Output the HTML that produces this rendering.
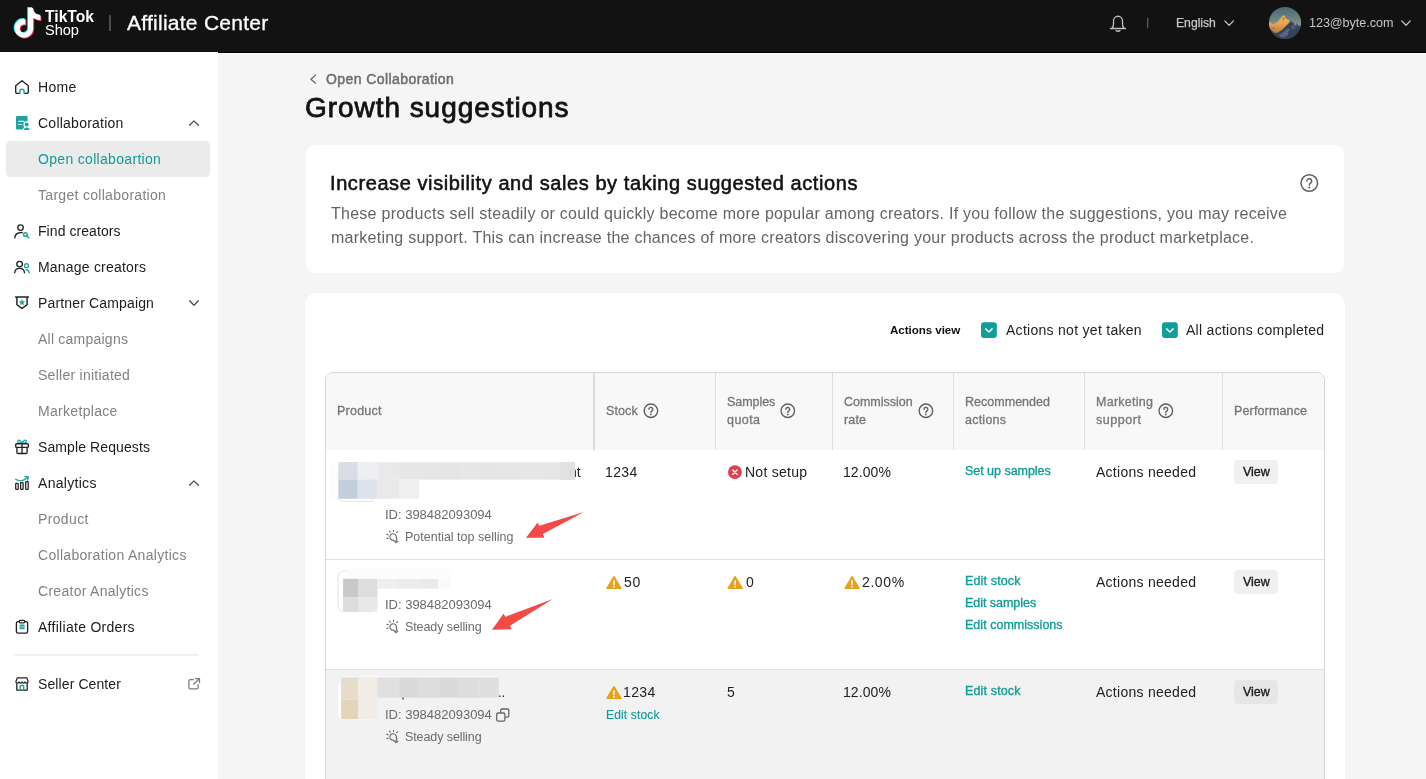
<!DOCTYPE html>
<html lang="en">
<head>
<meta charset="utf-8">
<title>Affiliate Center - Growth suggestions</title>
<style>

*{box-sizing:border-box;margin:0;padding:0}
html,body{width:1426px;height:779px;overflow:hidden;background:#fff;font-family:"Liberation Sans",sans-serif}
.t{position:absolute;white-space:pre;display:block;will-change:transform}
.abs{position:absolute}
svg{position:absolute;overflow:visible}
#hdr{position:absolute;left:0;top:0;width:1426px;height:53px;background:#121212;border-bottom:1px solid #000}
#side{position:absolute;left:0;top:52px;width:218px;height:727px;background:#fff}
#main{position:absolute;left:218px;top:54px;width:1208px;height:725px;background:#f5f5f5}
.card{position:absolute;background:#fff;border-radius:9px}
#tbl{position:absolute;left:325px;top:372px;width:1000px;height:420px;border:1px solid #d6d6d6;border-radius:8px;overflow:hidden;background:#fff}
.btn{position:absolute;width:44px;height:24px;border-radius:4px;background:#f0f0f0}

</style>
</head>
<body>
<header id="hdr">
<svg width="1426" height="52" viewBox="0 0 1426 52">
 <g transform="translate(11.75,7.0) scale(1.24)"><path d="M12.525.02c1.31-.02 2.61-.01 3.91-.02.08 1.53.63 3.09 1.75 4.17 1.12 1.11 2.7 1.62 4.24 1.79v4.03c-1.44-.05-2.89-.35-4.2-.97-.57-.26-1.1-.59-1.62-.93-.01 2.92.01 5.84-.02 8.75-.08 1.4-.54 2.79-1.35 3.94-1.31 1.92-3.58 3.17-5.91 3.21-1.43.08-2.86-.31-4.08-1.03-2.02-1.19-3.44-3.37-3.65-5.71-.02-.5-.03-1-.01-1.49.18-1.9 1.12-3.72 2.58-4.96 1.66-1.44 3.98-2.13 6.15-1.72.02 1.48-.04 2.96-.04 4.44-.99-.32-2.15-.23-3.02.37-.63.41-1.11 1.04-1.36 1.75-.21.51-.15 1.07-.14 1.61.24 1.64 1.82 3.02 3.5 2.87 1.12-.01 2.19-.66 2.77-1.61.19-.33.4-.67.41-1.06.1-1.79.06-3.57.07-5.36.01-4.03-.01-8.05.02-12.07z" fill="#25f4ee"/></g>
 <g transform="translate(13.55,8.8) scale(1.24)"><path d="M12.525.02c1.31-.02 2.61-.01 3.91-.02.08 1.53.63 3.09 1.75 4.17 1.12 1.11 2.7 1.62 4.24 1.79v4.03c-1.44-.05-2.89-.35-4.2-.97-.57-.26-1.1-.59-1.62-.93-.01 2.92.01 5.84-.02 8.75-.08 1.4-.54 2.79-1.35 3.94-1.31 1.92-3.58 3.17-5.91 3.21-1.43.08-2.86-.31-4.08-1.03-2.02-1.19-3.44-3.37-3.65-5.71-.02-.5-.03-1-.01-1.49.18-1.9 1.12-3.72 2.58-4.96 1.66-1.44 3.98-2.13 6.15-1.72.02 1.48-.04 2.96-.04 4.44-.99-.32-2.15-.23-3.02.37-.63.41-1.11 1.04-1.36 1.75-.21.51-.15 1.07-.14 1.61.24 1.64 1.82 3.02 3.5 2.87 1.12-.01 2.19-.66 2.77-1.61.19-.33.4-.67.41-1.06.1-1.79.06-3.57.07-5.36.01-4.03-.01-8.05.02-12.07z" fill="#fe2c55"/></g>
 <g transform="translate(12.65,7.9) scale(1.24)"><path d="M12.525.02c1.31-.02 2.61-.01 3.91-.02.08 1.53.63 3.09 1.75 4.17 1.12 1.11 2.7 1.62 4.24 1.79v4.03c-1.44-.05-2.89-.35-4.2-.97-.57-.26-1.1-.59-1.62-.93-.01 2.92.01 5.84-.02 8.75-.08 1.4-.54 2.79-1.35 3.94-1.31 1.92-3.58 3.17-5.91 3.21-1.43.08-2.86-.31-4.08-1.03-2.02-1.19-3.44-3.37-3.65-5.71-.02-.5-.03-1-.01-1.49.18-1.9 1.12-3.72 2.58-4.96 1.66-1.44 3.98-2.13 6.15-1.72.02 1.48-.04 2.96-.04 4.44-.99-.32-2.15-.23-3.02.37-.63.41-1.11 1.04-1.36 1.75-.21.51-.15 1.07-.14 1.61.24 1.64 1.82 3.02 3.5 2.87 1.12-.01 2.19-.66 2.77-1.61.19-.33.4-.67.41-1.06.1-1.79.06-3.57.07-5.36.01-4.03-.01-8.05.02-12.07z" fill="#fff"/></g>
 <rect x="109.2" y="15.2" width="1.6" height="15.8" fill="#5c5c5c"/>
 <g fill="none" stroke="#bdbdbd" stroke-width="1.35" stroke-linecap="round" stroke-linejoin="round">
  <path d="M1110.500 28.500H1125.500M1112 28.300c1.200-1.300 1.500-2.700 1.500-4.600v-2.900a4.500 4.500 0 0 1 9 0v2.900c0 1.900 .3 3.300 1.500 4.600"/>
  <path d="M1116.100 30.700Q1118 31.800 1119.900 30.700" stroke-width="1.500"/>
 </g>
 <rect x="1146.9" y="17.6" width="1.5" height="10.6" fill="#555"/>
 <path d="M1224.8 20.9l4.3 4.5l4.3-4.5" fill="none" stroke="#c6c6c6" stroke-width="1.3" stroke-linecap="round" stroke-linejoin="round"/>
 <path d="M1401.7 20.9l4.3 4.4l4.3-4.4" fill="none" stroke="#c6c6c6" stroke-width="1.3" stroke-linecap="round" stroke-linejoin="round"/>
 <defs>
  <clipPath id="avc"><circle cx="1285" cy="23" r="16.1"/></clipPath>
  <linearGradient id="sky" x1="0" y1="0" x2="0" y2="1"><stop offset="0" stop-color="#416470"/><stop offset=".35" stop-color="#64807f"/><stop offset=".6" stop-color="#8b9891"/><stop offset="1" stop-color="#8b9891"/></linearGradient>
  <linearGradient id="mtg" x1="0" y1="0" x2="0" y2="1"><stop offset="0" stop-color="#f6c064"/><stop offset=".5" stop-color="#e3a14e"/><stop offset="1" stop-color="#b9793f"/></linearGradient>
  <linearGradient id="mtd" x1="0" y1="0" x2="0" y2="1"><stop offset="0" stop-color="#4b5a72"/><stop offset="1" stop-color="#28313f"/></linearGradient>
  <filter id="avb" x="-10%" y="-10%" width="120%" height="120%"><feGaussianBlur stdDeviation=".55"/></filter>
 </defs>
 <g clip-path="url(#avc)"><g filter="url(#avb)">
  <rect x="1266" y="4" width="38" height="38" fill="url(#sky)"/>
  <path d="M1266 27L1290 20.500l2 1l2.500 2l1.500-.700l2 2.200l4 1.500l2 .5V42H1266z" fill="url(#mtd)"/>
  <path d="M1266 24l2.500-.7l2-1l2 2l2.500-1.100l2.500-1.200l3-3.500l2.900-3.600l1.600 1.600l1 2.300l2 .8l2 1.400l-1.800 3l-2.700 3l-2.500 3.500l-4 3l-5-1l-3-3l-5-2z" fill="url(#mtg)"/>
  <path d="M1283.500 16.600l1.200 2l-1.600 2.600l-.9-2.100z" fill="#8a5a2c" opacity=".55"/>
  <path d="M1266 27.500l5 .2l3.500-.7l.8 2l-3.300 1.200l-3 -.4l-3-.8z" fill="#8d7f86" opacity=".7"/>
  <path d="M1273 34l5-1.500l4.500-3l3.500-3.500l3-2.500l2.500-1l4.500 3.500l4 3l2 1V42H1271z" fill="#35425a"/>
  <path d="M1279 35l4-2.500l3-3l2.500-1.500l1.500 2l-2.500 2.500l1 2l-3.500 2.500l-4 .5z" fill="#6c7f9e" opacity=".6"/>
  <path d="M1291 26l2.500-1.500l2.500 2l-1 2.500l-3 1z" fill="#5d6f8e" opacity=".6"/>
  <circle cx="1295.300" cy="24" r="1.100" fill="#c9925a"/>
 </g>
 </g>
</svg>
<span class="t" style="left:44.7px;top:6.00px;font-size:15.6px;line-height:22px;color:#fff;font-weight:700;letter-spacing:0.034px;">TikTok</span><span class="t" style="left:44.9px;top:20.00px;font-size:14.6px;line-height:20px;color:#fff;letter-spacing:-0.031px;">Shop</span><span class="t" style="left:126.8px;top:8.00px;font-size:21px;line-height:29px;color:#fff;letter-spacing:0.256px;-webkit-text-stroke:0.3px #fff;">Affiliate Center</span><span class="t" style="left:1176.4px;top:15.00px;font-size:12.2px;line-height:17px;color:#c6c6c6;letter-spacing:-0.014px;-webkit-text-stroke:0.25px #c6c6c6;">English</span><span class="t" style="left:1308.8px;top:14.00px;font-size:12.6px;line-height:18px;color:#c6c6c6;letter-spacing:-0.046px;">123@byte.com</span>
</header>
<aside id="side"><svg width="218" height="727" viewBox="0 52 218 727">
 <rect x="6" y="141" width="204" height="36" rx="4.5" fill="#ebebeb"/>
 <g fill="none" stroke="#222" stroke-width="1.35" stroke-linecap="round" stroke-linejoin="round">
  <!-- home -->
  <path d="M19.3 93.4H17.2a1.5 1.5 0 0 1-1.5-1.500V85.700L22 80.700l6.300 5v6.200a1.500 1.500 0 0 1-1.500 1.500H24.700"/>
  <path d="M19.900 93.600V91.300a2.100 2.100 0 0 1 4.200 0V93.600" stroke="#1fa39e" stroke-width="1.5"/>
  <!-- find creators -->
  <circle cx="20.500" cy="227.600" r="2.750"/>
  <path d="M14.800 237.900C14.900 234.600 17.300 232.400 22.200 232.500"/>
  <g stroke="#1fa39e" stroke-width="1.450"><circle cx="25.400" cy="234.500" r="1.850"/><path d="M26.900 236L28.900 238"/></g>
  <!-- manage creators -->
  <circle cx="19.600" cy="264.100" r="2.800"/>
  <path d="M14.700 272.800C14.900 269.800 16.800 268.300 19.600 268.300C22.400 268.300 24.300 269.800 24.500 272.800"/>
  <g stroke="#1fa39e" stroke-width="1.350"><circle cx="26.500" cy="265.700" r="1.950"/><path d="M26 269.700C27.900 269.700 29 270.900 29.100 272.800"/></g>
  <!-- partner campaign -->
  <path d="M15.600 297H28.400M16.900 297.200V304.600L22 308.500L27.100 304.600V297.200" stroke-width="1.450"/>
  <path d="M22 299.800l.8 1.700l1.850.2l-1.400 1.250l.4 1.850L22 303.850l-1.650.95l.4-1.850l-1.400-1.250l1.850-.2z" fill="#1fa39e" stroke="#1fa39e" stroke-width=".5"/>
  <!-- sample requests -->
  <g stroke="#1fa39e" stroke-width="1.300"><path d="M22 443.400C20.800 440 18 439.300 17.700 441.200C17.500 442.800 19.800 443.400 22 443.400C24.200 443.400 26.500 442.800 26.300 441.200C26 439.300 23.200 440 22 443.400"/></g>
  <rect x="15.700" y="443.700" width="12.700" height="3.700" rx="1"/>
  <path d="M16.900 447.600V452.200a1.300 1.300 0 0 0 1.300 1.300H25.800a1.300 1.300 0 0 0 1.300-1.300V447.600M22 443.900V453.400"/>
  <!-- analytics -->
  <g stroke-width="1.250"><rect x="15.700" y="483.400" width="2.500" height="6" rx=".6"/><rect x="20.600" y="482.500" width="2.500" height="6.900" rx=".6"/><rect x="25.700" y="481.600" width="2.500" height="7.800" rx=".6"/></g>
  <g stroke="#1fa39e" stroke-width="1.300"><path d="M15.700 479.300C18.500 481 21.500 481.200 24 479.900C25.500 479.100 26.800 478.200 27.900 477.300"/><path d="M25 476.500L28.300 477L27.600 480.100"/></g>
  <!-- affiliate orders -->
  <rect x="16.400" y="621.600" width="11.200" height="11.600" rx="1.600"/>
  <rect x="19.400" y="620.300" width="5.200" height="2.500" rx=".8" fill="#fff" stroke-width="1.200"/>
  <rect x="19.600" y="624.600" width="5" height="4.600" rx=".5" fill="#1fa39e" stroke="none"/>
  <path d="M20.200 626.900H24" stroke="#d8f0ee" stroke-width=".7"/>
  <!-- seller center -->
  <path d="M17.200 677.900H26.900L28.100 681.700C28.100 683.400 25.300 683.500 25 681.900C24.800 683.500 22.200 683.500 22 681.900C21.800 683.500 19.200 683.500 19 681.900C18.700 683.500 15.900 683.400 15.900 681.700Z" stroke-width="1.250"/>
  <path d="M16.800 683.800V690.100H27.200V683.800" stroke-width="1.300"/>
  <path d="M20.300 690.100V686a.5 .5 0 0 1 .5-.5H23.200a.5 .5 0 0 1 .5 .5V690.100" stroke="#1fa39e" stroke-width="1.400"/>
 </g>
 <!-- collaboration -->
 <rect x="16" y="116.100" width="11.600" height="13.500" rx="1.400" fill="#1fa39e"/>
 <path d="M18.400 121.400H24.200M18.400 124.500H21.900" stroke="#fff" stroke-width="1.100" fill="none"/>
 <circle cx="26.600" cy="124.500" r="3.150" fill="#fff"/>
 <path d="M22.600 131.500C22.600 128 24.300 126.300 26.700 126.300C29.100 126.300 30.800 128 30.800 131.500Z" fill="#fff"/>
 <circle cx="26.600" cy="124.500" r="1.950" fill="#1fa39e"/>
 <path d="M23.800 130.100C23.900 128.300 25 127.400 26.700 127.400C28.400 127.400 29.500 128.300 29.600 130.100Z" fill="#1fa39e"/>
 <rect x="22" y="130.200" width="9" height="2" fill="#fff"/>
 <path d="M189.6 125.3L194 120.9L198.4 125.3" fill="none" stroke="#4a4a4a" stroke-width="1.25" stroke-linecap="round" stroke-linejoin="round"/><path d="M189.6 300.8L194 305.2L198.4 300.8" fill="none" stroke="#4a4a4a" stroke-width="1.25" stroke-linecap="round" stroke-linejoin="round"/><path d="M189.6 485.3L194 480.9L198.4 485.3" fill="none" stroke="#4a4a4a" stroke-width="1.25" stroke-linecap="round" stroke-linejoin="round"/>
 <rect x="14" y="654.400" width="185" height="1" fill="#e3e3e3"/>
 <path d="M193.400 679.600H190.300a1.400 1.400 0 0 0-1.400 1.400V687.400a1.400 1.400 0 0 0 1.400 1.400H196.700a1.400 1.400 0 0 0 1.400-1.400V684.500M193.600 684.200L199.300 678.700M195.600 678.700H199.500V682.600" fill="none" stroke="#7a7a7a" stroke-width="1.250" stroke-linecap="round" stroke-linejoin="round"/>
</svg><nav style="position:absolute;left:0;top:-52px"><span class="t" style="left:37.9px;top:77.00px;font-size:14px;line-height:20px;color:#1c1c1c;letter-spacing:0.280px;">Home</span><span class="t" style="left:37.9px;top:113.00px;font-size:14px;line-height:20px;color:#1c1c1c;letter-spacing:0.242px;">Collaboration</span><span class="t" style="left:37.9px;top:149.00px;font-size:14px;line-height:20px;color:#129c97;letter-spacing:0.316px;">Open collaboartion</span><span class="t" style="left:37.9px;top:185.00px;font-size:14px;line-height:20px;color:#828282;letter-spacing:0.301px;">Target collaboration</span><span class="t" style="left:37.9px;top:221.00px;font-size:14px;line-height:20px;color:#1c1c1c;letter-spacing:0.066px;">Find creators</span><span class="t" style="left:37.9px;top:257.00px;font-size:14px;line-height:20px;color:#1c1c1c;letter-spacing:0.203px;">Manage creators</span><span class="t" style="left:37.9px;top:293.00px;font-size:14px;line-height:20px;color:#1c1c1c;letter-spacing:0.152px;">Partner Campaign</span><span class="t" style="left:37.9px;top:329.00px;font-size:14px;line-height:20px;color:#828282;letter-spacing:0.229px;">All campaigns</span><span class="t" style="left:37.9px;top:365.00px;font-size:14px;line-height:20px;color:#828282;letter-spacing:0.264px;">Seller initiated</span><span class="t" style="left:37.9px;top:401.00px;font-size:14px;line-height:20px;color:#828282;letter-spacing:0.313px;">Marketplace</span><span class="t" style="left:37.9px;top:437.00px;font-size:14px;line-height:20px;color:#1c1c1c;letter-spacing:0.099px;">Sample Requests</span><span class="t" style="left:37.9px;top:473.00px;font-size:14px;line-height:20px;color:#1c1c1c;letter-spacing:0.296px;">Analytics</span><span class="t" style="left:37.9px;top:509.00px;font-size:14px;line-height:20px;color:#828282;letter-spacing:0.358px;">Product</span><span class="t" style="left:37.9px;top:545.00px;font-size:14px;line-height:20px;color:#828282;letter-spacing:0.307px;">Collaboration Analytics</span><span class="t" style="left:37.9px;top:581.00px;font-size:14px;line-height:20px;color:#828282;letter-spacing:0.286px;">Creator Analytics</span><span class="t" style="left:37.9px;top:617.00px;font-size:14px;line-height:20px;color:#1c1c1c;letter-spacing:0.284px;">Affiliate Orders</span><span class="t" style="left:37.9px;top:674.00px;font-size:14px;line-height:20px;color:#1c1c1c;letter-spacing:0.100px;">Seller Center</span></nav></aside>
<main id="main"></main>
<div style="position:absolute;left:0;top:0;width:1426px;height:779px;overflow:hidden">
 <section class="card" style="left:306px;top:145px;width:1038px;height:128px"></section>
 <section class="card" style="left:305px;top:293px;width:1040px;height:520px;border-radius:12px"></section>
 <div style="position:absolute;left:218px;top:52px;width:1208px;height:727px"><svg width="1208" height="727" viewBox="218 52 1208 727">
 <path d="M315.300 75.300L310.900 79.200L315.300 83.100" fill="none" stroke="#6e6e6e" stroke-width="1.400" stroke-linecap="round" stroke-linejoin="round"/>
 <g transform="translate(1309.3,183)" fill="none" stroke="#5f5f5f" stroke-width="1.5" stroke-linecap="round" stroke-linejoin="round"><circle r="8.3"/><g transform="scale(1.3)"><path d="M-1.85 -1.45a1.85 1.85 0 1 1 2.85 1.55c-.7.45-1 .8-1 1.45" stroke-width="1.15"/><circle cx="0" cy="3.45" r=".85" fill="#5f5f5f" stroke="none"/></g></g>
 <!-- checkboxes -->
 <rect x="981" y="322.200" width="15.800" height="15.800" rx="3" fill="#0f9f99"/>
 <path d="M985.700 328.900L988.900 332L992.100 328.900" fill="none" stroke="#fff" stroke-width="1.500" stroke-linecap="round" stroke-linejoin="round"/>
 <rect x="1162" y="322.200" width="15.800" height="15.800" rx="3" fill="#0f9f99"/>
 <path d="M1166.700 328.900L1169.900 332L1173.100 328.900" fill="none" stroke="#fff" stroke-width="1.500" stroke-linecap="round" stroke-linejoin="round"/>
</svg></div>
 <span class="t" style="left:325.6px;top:69.00px;font-size:14px;line-height:20px;color:#6e6e6e;letter-spacing:0.421px;-webkit-text-stroke:0.5px #6e6e6e;">Open Collaboration</span><span class="t" style="left:304.6px;top:88.00px;font-size:28px;line-height:39px;color:#121212;letter-spacing:0.949px;-webkit-text-stroke:0.8px #121212;">Growth suggestions</span><span class="t" style="left:330.2px;top:169.00px;font-size:20px;line-height:28px;color:#121212;letter-spacing:0.584px;-webkit-text-stroke:0.55px #121212;">Increase visibility and sales by taking suggested actions</span><span class="t" style="left:330.9px;top:203.00px;font-size:16px;line-height:22px;color:#646464;letter-spacing:0.259px;">These products sell steadily or could quickly become more popular among creators. If you follow the suggestions, you may receive</span><span class="t" style="left:330.9px;top:227.00px;font-size:16px;line-height:22px;color:#646464;letter-spacing:0.249px;">marketing support. This can increase the chances of more creators discovering your products across the product marketplace.</span><span class="t" style="left:889.6px;top:322.00px;font-size:11.6px;line-height:16px;color:#111;font-weight:700;letter-spacing:-0.061px;">Actions view</span><span class="t" style="left:1005.6px;top:320.00px;font-size:14px;line-height:20px;color:#222;letter-spacing:0.282px;">Actions not yet taken</span><span class="t" style="left:1186.4px;top:320.00px;font-size:14px;line-height:20px;color:#222;letter-spacing:0.285px;">All actions completed</span>
 <div id="tbl"><svg width="1000" height="420" viewBox="326 373 1000 420" style="left:0;top:0">
 <rect x="326" y="373" width="1000" height="77" fill="#f8f8f8"/>
 <rect x="593" y="373" width="2" height="77" fill="#dbdbdb"/>
 <rect x="715" y="373" width="1" height="77" fill="#dedede"/>
 <rect x="832" y="373" width="1" height="77" fill="#dedede"/>
 <rect x="953" y="373" width="1" height="77" fill="#dedede"/>
 <rect x="1084" y="373" width="1" height="77" fill="#dedede"/>
 <rect x="1222" y="373" width="1" height="77" fill="#dedede"/>
 <rect x="326" y="559" width="1000" height="1" fill="#e0e0e0"/>
 <rect x="326" y="669" width="1000" height="1" fill="#e0e0e0"/>
 <rect x="326" y="670" width="1000" height="130" fill="#f2f2f2"/>
 <g transform="translate(650.9,410.8)" fill="none" stroke="#5f5f5f" stroke-width="1.35" stroke-linecap="round" stroke-linejoin="round"><circle r="6.75"/><g transform="scale(1.05)"><path d="M-1.85 -1.45a1.85 1.85 0 1 1 2.85 1.55c-.7.45-1 .8-1 1.45" stroke-width="1.29"/><circle cx="0" cy="3.45" r=".85" fill="#5f5f5f" stroke="none"/></g></g><g transform="translate(787.8,410.8)" fill="none" stroke="#5f5f5f" stroke-width="1.35" stroke-linecap="round" stroke-linejoin="round"><circle r="6.75"/><g transform="scale(1.05)"><path d="M-1.85 -1.45a1.85 1.85 0 1 1 2.85 1.55c-.7.45-1 .8-1 1.45" stroke-width="1.29"/><circle cx="0" cy="3.45" r=".85" fill="#5f5f5f" stroke="none"/></g></g><g transform="translate(925.9,410.8)" fill="none" stroke="#5f5f5f" stroke-width="1.35" stroke-linecap="round" stroke-linejoin="round"><circle r="6.75"/><g transform="scale(1.05)"><path d="M-1.85 -1.45a1.85 1.85 0 1 1 2.85 1.55c-.7.45-1 .8-1 1.45" stroke-width="1.29"/><circle cx="0" cy="3.45" r=".85" fill="#5f5f5f" stroke="none"/></g></g><g transform="translate(1165.8,410.8)" fill="none" stroke="#5f5f5f" stroke-width="1.35" stroke-linecap="round" stroke-linejoin="round"><circle r="6.75"/><g transform="scale(1.05)"><path d="M-1.85 -1.45a1.85 1.85 0 1 1 2.85 1.55c-.7.45-1 .8-1 1.45" stroke-width="1.29"/><circle cx="0" cy="3.45" r=".85" fill="#5f5f5f" stroke="none"/></g></g>
 <!-- row 1 -->
 <rect x="338.300" y="462.500" width="37" height="38.900" rx="5" fill="#fff" stroke="#e2e2e2"/>
 <rect x="331" y="462.2" width="7.4" height="36.6" fill="#fcfcfc"/>
 <rect x="338.4" y="462.2" width="19.4" height="17.2" fill="#d8dde6"/><rect x="357.8" y="462.2" width="19.8" height="17.2" fill="#edeff3"/>
 <rect x="377.6" y="462.2" width="21.4" height="17.5" fill="#e9e9e9"/><rect x="399" y="462.2" width="20" height="17.5" fill="#e7e7e7"/><rect x="419" y="462.2" width="20" height="17.5" fill="#e6e6e6"/><rect x="439" y="462.2" width="20" height="17.5" fill="#e5e5e5"/><rect x="459" y="462.2" width="20" height="17.5" fill="#e7e7e7"/><rect x="479" y="462.2" width="20" height="17.5" fill="#e5e5e5"/><rect x="499" y="462.2" width="20" height="17.5" fill="#e6e6e6"/><rect x="519" y="462.2" width="20" height="17.5" fill="#e7e7e7"/><rect x="539" y="462.2" width="21" height="17.5" fill="#e6e6e6"/><rect x="560" y="462.2" width="15.2" height="17.5" fill="#e1e1e1"/>
 <rect x="338.4" y="479.4" width="19.4" height="19.4" fill="#c3cfdd"/><rect x="357.8" y="479.4" width="19.8" height="19.4" fill="#dee2ea"/><rect x="377.6" y="479.4" width="21.4" height="19.4" fill="#e9e9e9"/><rect x="399" y="479.4" width="20" height="19.4" fill="#f0f0f0"/>
 <circle cx="734.900" cy="472.100" r="6.950" fill="#e0414f"/>
 <path d="M732.700 469.900l4.400 4.400M737.100 469.900l-4.400 4.400" stroke="#fff" stroke-width="1.450" stroke-linecap="round"/>
 <g transform="translate(393.1,536.9)" fill="none" stroke="#686868" stroke-width="1.1" stroke-linecap="round" stroke-linejoin="round"><path d="M.5 3.25A3.25 3.25 0 1 1 3.2 .6L3.85 3.2L2 4.85Z"/><path d="M2.5 5.85L4.7 4.55" stroke-width="1.15"/><path d="M-6.3 -2.6l1.25 .35M-6.3 1.55l1.25 -.35M-3.55 -5.85l.7 1.05M.45 -6.6l-.08 1.2M4.55 -5.15l-1.1 .75"/></g>
 <path d="M583.9 512.0L539.4 525.7L537.5 522.8L526.0 537.8L544.3 537.8L542.9 534.1Z" fill="#f24a46"/>
 <!-- row 2 -->
 <rect x="338" y="571.200" width="39" height="40.300" rx="5.500" fill="#fff" stroke="#e2e2e2"/>
 <rect x="347" y="568.7" width="104" height="10.3" fill="#fcfcfc"/>
 <rect x="343.1" y="578.8" width="14.9" height="18.5" fill="#c9c9c9"/><rect x="358" y="578.8" width="19.2" height="18.5" fill="#dedede"/>
 <rect x="343.1" y="597.3" width="14.9" height="14.1" fill="#dcdcdc"/><rect x="358" y="597.3" width="19.2" height="14.1" fill="#e8e8e8"/>
 <rect x="377.2" y="579" width="20" height="9.6" fill="#efefef"/><rect x="397.2" y="579" width="20" height="9.6" fill="#ececec"/><rect x="417.2" y="579" width="21" height="9.6" fill="#eaeaea"/><rect x="438.2" y="579" width="12.6" height="9.6" fill="#fafafa"/>
 <g transform="translate(606.1,575.6)"><path d="M7.85 1.1L14.9 12.7H.8Z" fill="#e8a11a" stroke="#e8a11a" stroke-width="1.4" stroke-linejoin="round"/><path d="M7.85 5.2V9" stroke="#fff" stroke-width="1.5" stroke-linecap="round" fill="none"/><circle cx="7.85" cy="11.1" r=".85" fill="#fff"/></g><g transform="translate(727.3,575.6)"><path d="M7.85 1.1L14.9 12.7H.8Z" fill="#e8a11a" stroke="#e8a11a" stroke-width="1.4" stroke-linejoin="round"/><path d="M7.85 5.2V9" stroke="#fff" stroke-width="1.5" stroke-linecap="round" fill="none"/><circle cx="7.85" cy="11.1" r=".85" fill="#fff"/></g><g transform="translate(844.2,575.6)"><path d="M7.85 1.1L14.9 12.7H.8Z" fill="#e8a11a" stroke="#e8a11a" stroke-width="1.4" stroke-linejoin="round"/><path d="M7.85 5.2V9" stroke="#fff" stroke-width="1.5" stroke-linecap="round" fill="none"/><circle cx="7.85" cy="11.1" r=".85" fill="#fff"/></g>
 <g transform="translate(393.1,626.9)" fill="none" stroke="#686868" stroke-width="1.1" stroke-linecap="round" stroke-linejoin="round"><path d="M.5 3.25A3.25 3.25 0 1 1 3.2 .6L3.85 3.2L2 4.85Z"/><path d="M2.5 5.85L4.7 4.55" stroke-width="1.15"/><path d="M-6.3 -2.6l1.25 .35M-6.3 1.55l1.25 -.35M-3.55 -5.85l.7 1.05M.45 -6.6l-.08 1.2M4.55 -5.15l-1.1 .75"/></g>
 <path d="M552.9 599.0L505.4 616.7L503.5 613.7L492.0 629.8L511.7 629.3L510.0 625.7Z" fill="#f24a46"/>
 <!-- row 3 -->
 <rect x="338" y="681" width="39" height="39" rx="6" fill="#fff"/>
 <rect x="340.9" y="675.3" width="158" height="2.3" fill="#f6f6f6"/>
 <rect x="341.1" y="677.5" width="17.4" height="22.1" fill="#e6dccb"/><rect x="341.1" y="699.6" width="17.4" height="19.6" fill="#e3d4ba"/><rect x="358.5" y="677.5" width="18.7" height="41.7" fill="#f1ede6"/>
 <rect x="341.1" y="719.2" width="36.1" height="6.5" fill="#f4f2ef"/>
 <rect x="377.2" y="677.5" width="22" height="20.2" fill="#e0e0e0"/><rect x="399.2" y="677.5" width="20" height="20.2" fill="#d9d9d9"/><rect x="419.2" y="677.5" width="20" height="20.2" fill="#dddddd"/><rect x="439.2" y="677.5" width="20" height="20.2" fill="#dadada"/><rect x="459.2" y="677.5" width="20" height="20.2" fill="#dddddd"/><rect x="479.2" y="677.5" width="19.6" height="20.2" fill="#dfdfdf"/>
 <rect x="402.4" y="697.7" width="1.3" height="1.8" fill="#333"/>
 <g transform="translate(606.1,685.6)"><path d="M7.85 1.1L14.9 12.7H.8Z" fill="#e8a11a" stroke="#e8a11a" stroke-width="1.4" stroke-linejoin="round"/><path d="M7.85 5.2V9" stroke="#fff" stroke-width="1.5" stroke-linecap="round" fill="none"/><circle cx="7.85" cy="11.1" r=".85" fill="#fff"/></g>
 <g transform="translate(393.1,736.9)" fill="none" stroke="#686868" stroke-width="1.1" stroke-linecap="round" stroke-linejoin="round"><path d="M.5 3.25A3.25 3.25 0 1 1 3.2 .6L3.85 3.2L2 4.85Z"/><path d="M2.5 5.85L4.7 4.55" stroke-width="1.15"/><path d="M-6.3 -2.6l1.25 .35M-6.3 1.55l1.25 -.35M-3.55 -5.85l.7 1.05M.45 -6.6l-.08 1.2M4.55 -5.15l-1.1 .75"/></g>
 <g fill="none" stroke="#666" stroke-width="1.300" stroke-linejoin="round"><path d="M500.700 712.600V710.300a1.300 1.300 0 0 1 1.300-1.300H507.500a1.300 1.300 0 0 1 1.300 1.300V715.800a1.300 1.300 0 0 1-1.300 1.300H505.300"/><rect x="496.700" y="713" width="8.200" height="8.200" rx="1.400"/></g>
</svg>
  <div class="btn" style="left:907.8px;top:86.80000000000001px"></div>
  <div class="btn" style="left:907.8px;top:196.79999999999995px"></div>
  <div class="btn" style="left:907.8px;top:306.79999999999995px;background:#e6e6e6"></div>
 </div>
 <div id="tt" style="position:absolute;left:0;top:0">
 <span class="t" style="left:337.0px;top:402.00px;font-size:12.5px;line-height:18px;color:#767676;letter-spacing:0.234px;-webkit-text-stroke:0.3px #767676;">Product</span><span class="t" style="left:606.0px;top:402.00px;font-size:12.5px;line-height:18px;color:#767676;letter-spacing:0.109px;-webkit-text-stroke:0.3px #767676;">Stock</span><span class="t" style="left:727.0px;top:393.00px;font-size:12.5px;line-height:18px;color:#767676;letter-spacing:-0.057px;-webkit-text-stroke:0.3px #767676;">Samples</span><span class="t" style="left:727.0px;top:411.00px;font-size:12.5px;line-height:18px;color:#767676;letter-spacing:0.430px;-webkit-text-stroke:0.3px #767676;">quota</span><span class="t" style="left:844.2px;top:393.00px;font-size:12.5px;line-height:18px;color:#767676;letter-spacing:-0.007px;-webkit-text-stroke:0.3px #767676;">Commission</span><span class="t" style="left:844.2px;top:411.00px;font-size:12.5px;line-height:18px;color:#767676;letter-spacing:0.151px;-webkit-text-stroke:0.3px #767676;">rate</span><span class="t" style="left:965.0px;top:393.00px;font-size:12.5px;line-height:18px;color:#767676;letter-spacing:0.023px;-webkit-text-stroke:0.3px #767676;">Recommended</span><span class="t" style="left:965.0px;top:411.00px;font-size:12.5px;line-height:18px;color:#767676;letter-spacing:0.232px;-webkit-text-stroke:0.3px #767676;">actions</span><span class="t" style="left:1096.0px;top:393.00px;font-size:12.5px;line-height:18px;color:#767676;letter-spacing:0.264px;-webkit-text-stroke:0.3px #767676;">Marketing</span><span class="t" style="left:1096.0px;top:411.00px;font-size:12.5px;line-height:18px;color:#767676;letter-spacing:0.549px;-webkit-text-stroke:0.3px #767676;">support</span><span class="t" style="left:1234.0px;top:402.00px;font-size:12.5px;line-height:18px;color:#767676;letter-spacing:0.144px;-webkit-text-stroke:0.3px #767676;">Performance</span>
 <span class="t" style="left:1096.4px;top:462.00px;font-size:14px;line-height:20px;color:#222;letter-spacing:0.267px;">Actions needed</span><span class="t" style="left:1242.5px;top:463.00px;font-size:12.5px;line-height:18px;color:#1a1a1a;letter-spacing:-0.058px;-webkit-text-stroke:0.35px #1a1a1a;">View</span><span class="t" style="left:1096.4px;top:572.00px;font-size:14px;line-height:20px;color:#222;letter-spacing:0.267px;">Actions needed</span><span class="t" style="left:1242.5px;top:573.00px;font-size:12.5px;line-height:18px;color:#1a1a1a;letter-spacing:-0.058px;-webkit-text-stroke:0.35px #1a1a1a;">View</span><span class="t" style="left:1096.4px;top:682.00px;font-size:14px;line-height:20px;color:#222;letter-spacing:0.267px;">Actions needed</span><span class="t" style="left:1242.5px;top:683.00px;font-size:12.5px;line-height:18px;color:#1a1a1a;letter-spacing:-0.058px;-webkit-text-stroke:0.35px #1a1a1a;">View</span><span class="t" style="left:605.2px;top:462.00px;font-size:14px;line-height:20px;color:#222;letter-spacing:0.348px;">1234</span><span class="t" style="left:745.4px;top:462.00px;font-size:14px;line-height:20px;color:#222;letter-spacing:0.258px;">Not setup</span><span class="t" style="left:843.4px;top:462.00px;font-size:14px;line-height:20px;color:#222;letter-spacing:0.083px;">12.00%</span><span class="t" style="left:965.4px;top:462.00px;font-size:12.5px;line-height:18px;color:#129c97;letter-spacing:-0.029px;-webkit-text-stroke:0.35px #129c97;">Set up samples</span><span class="t" style="left:568.8px;top:462.00px;font-size:14px;line-height:20px;color:#222;">nt</span><span class="t" style="left:385.1px;top:506.00px;font-size:13px;line-height:18px;color:#6b6b6b;letter-spacing:-0.012px;">ID: 398482093094</span><span class="t" style="left:404.9px;top:528.00px;font-size:12.5px;line-height:18px;color:#6b6b6b;">Potential top selling</span><span class="t" style="left:624.3px;top:572.00px;font-size:14px;line-height:20px;color:#222;letter-spacing:0.822px;">50</span><span class="t" style="left:745.5px;top:572.00px;font-size:14px;line-height:20px;color:#222;">0</span><span class="t" style="left:862.4px;top:572.00px;font-size:14px;line-height:20px;color:#222;letter-spacing:0.599px;">2.00%</span><span class="t" style="left:965.4px;top:572.00px;font-size:12.5px;line-height:18px;color:#129c97;letter-spacing:0.146px;-webkit-text-stroke:0.35px #129c97;">Edit stock</span><span class="t" style="left:965.4px;top:594.00px;font-size:12.5px;line-height:18px;color:#129c97;letter-spacing:-0.033px;-webkit-text-stroke:0.35px #129c97;">Edit samples</span><span class="t" style="left:965.4px;top:616.00px;font-size:12.5px;line-height:18px;color:#129c97;letter-spacing:0.023px;-webkit-text-stroke:0.35px #129c97;">Edit commissions</span><span class="t" style="left:385.1px;top:596.00px;font-size:13px;line-height:18px;color:#6b6b6b;letter-spacing:-0.012px;">ID: 398482093094</span><span class="t" style="left:405.2px;top:618.00px;font-size:12.5px;line-height:18px;color:#6b6b6b;letter-spacing:-0.094px;">Steady selling</span><span class="t" style="left:623.1px;top:682.00px;font-size:14px;line-height:20px;color:#222;letter-spacing:0.348px;">1234</span><span class="t" style="left:605.9px;top:707.00px;font-size:12px;line-height:17px;color:#129c97;letter-spacing:0.152px;-webkit-text-stroke:0.15px #129c97;">Edit stock</span><span class="t" style="left:727.0px;top:682.00px;font-size:14px;line-height:20px;color:#222;">5</span><span class="t" style="left:843.4px;top:682.00px;font-size:14px;line-height:20px;color:#222;letter-spacing:0.083px;">12.00%</span><span class="t" style="left:965.4px;top:682.00px;font-size:12.5px;line-height:18px;color:#129c97;letter-spacing:0.146px;-webkit-text-stroke:0.35px #129c97;">Edit stock</span><span class="t" style="left:497.9px;top:684.00px;font-size:13px;line-height:18px;color:#222;">..</span><span class="t" style="left:385.1px;top:706.00px;font-size:13px;line-height:18px;color:#6b6b6b;letter-spacing:-0.012px;">ID: 398482093094</span><span class="t" style="left:405.2px;top:728.00px;font-size:12.5px;line-height:18px;color:#6b6b6b;letter-spacing:-0.094px;">Steady selling</span>
 <div class="abs" style="left:560px;top:462.2px;width:15.200px;height:17.500px;background:rgba(225,225,225,.93)"></div>
 </div>
</div>

</body>
</html>
